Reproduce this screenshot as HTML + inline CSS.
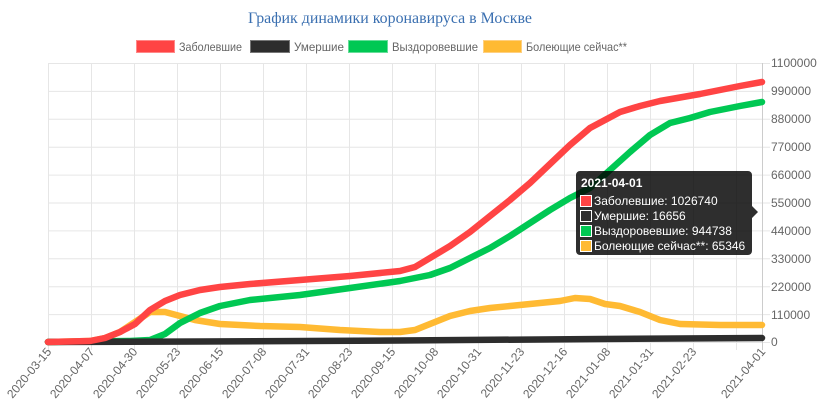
<!DOCTYPE html>
<html><head><meta charset="utf-8"><style>
html,body{margin:0;padding:0;background:#fff;width:826px;height:420px;overflow:hidden}
svg{display:block;font-family:"Liberation Sans",sans-serif}
</style></head><body>
<svg width="826" height="420" viewBox="0 0 826 420" xmlns="http://www.w3.org/2000/svg">
<text x="390" y="23" text-anchor="middle" font-family="Liberation Serif,serif" font-size="16" fill="#3a6fb0" textLength="284" lengthAdjust="spacingAndGlyphs">График динамики коронавируса в Москве</text>
<g font-size="12" fill="#666">
<rect x="136.5" y="40.5" width="38" height="12" fill="#ff4444" stroke="#ff8888"/><text x="179" y="51" textLength="63" lengthAdjust="spacingAndGlyphs">Заболевшие</text>
<rect x="250.5" y="40.5" width="39" height="12" fill="#2d2d2d" stroke="#777"/><text x="294" y="51" textLength="50" lengthAdjust="spacingAndGlyphs">Умершие</text>
<rect x="348.5" y="40.5" width="39" height="12" fill="#00c853" stroke="#66dd99"/><text x="392" y="51" textLength="86" lengthAdjust="spacingAndGlyphs">Выздоровевшие</text>
<rect x="483.5" y="40.5" width="38" height="12" fill="#ffba33" stroke="#ffd080"/><text x="526" y="51" textLength="101" lengthAdjust="spacingAndGlyphs">Болеющие сейчас**</text>
</g>
<g stroke="#e6e6e6" stroke-width="1">
<line x1="48" y1="63.5" x2="770" y2="63.5"/><line x1="48" y1="91.4" x2="770" y2="91.4"/><line x1="48" y1="119.3" x2="770" y2="119.3"/><line x1="48" y1="147.2" x2="770" y2="147.2"/><line x1="48" y1="175.1" x2="770" y2="175.1"/><line x1="48" y1="203" x2="770" y2="203"/><line x1="48" y1="230.9" x2="770" y2="230.9"/><line x1="48" y1="258.8" x2="770" y2="258.8"/><line x1="48" y1="286.7" x2="770" y2="286.7"/><line x1="48" y1="314.6" x2="770" y2="314.6"/><line x1="48" y1="342.5" x2="770" y2="342.5"/>
<line x1="48.5" y1="63" x2="48.5" y2="350"/><line x1="91.5" y1="63" x2="91.5" y2="350"/><line x1="134.5" y1="63" x2="134.5" y2="350"/><line x1="177.5" y1="63" x2="177.5" y2="350"/><line x1="220.5" y1="63" x2="220.5" y2="350"/><line x1="263.5" y1="63" x2="263.5" y2="350"/><line x1="306.5" y1="63" x2="306.5" y2="350"/><line x1="349.5" y1="63" x2="349.5" y2="350"/><line x1="392.5" y1="63" x2="392.5" y2="350"/><line x1="435.5" y1="63" x2="435.5" y2="350"/><line x1="478.5" y1="63" x2="478.5" y2="350"/><line x1="521.5" y1="63" x2="521.5" y2="350"/><line x1="564.5" y1="63" x2="564.5" y2="350"/><line x1="607.5" y1="63" x2="607.5" y2="350"/><line x1="650.5" y1="63" x2="650.5" y2="350"/><line x1="693.5" y1="63" x2="693.5" y2="350"/><line x1="736.5" y1="63" x2="736.5" y2="350"/>
</g>
<line x1="762.5" y1="63" x2="762.5" y2="350" stroke="#ccc"/>
<g font-size="12" fill="#666">
<text x="771" y="67">1100000</text><text x="771" y="95">990000</text><text x="771" y="123">880000</text><text x="771" y="151">770000</text><text x="771" y="179">660000</text><text x="771" y="207">550000</text><text x="771" y="235">440000</text><text x="771" y="263">330000</text><text x="771" y="291">220000</text><text x="771" y="319">110000</text><text x="771" y="346">0</text>
</g>
<g font-size="12" fill="#666" text-anchor="end">
<text transform="translate(52,352) rotate(-50)">2020-03-15</text>
<text transform="translate(95,352) rotate(-50)">2020-04-07</text>
<text transform="translate(138,352) rotate(-50)">2020-04-30</text>
<text transform="translate(181,352) rotate(-50)">2020-05-23</text>
<text transform="translate(224,352) rotate(-50)">2020-06-15</text>
<text transform="translate(267,352) rotate(-50)">2020-07-08</text>
<text transform="translate(310,352) rotate(-50)">2020-07-31</text>
<text transform="translate(353,352) rotate(-50)">2020-08-23</text>
<text transform="translate(396,352) rotate(-50)">2020-09-15</text>
<text transform="translate(439,352) rotate(-50)">2020-10-08</text>
<text transform="translate(482,352) rotate(-50)">2020-10-31</text>
<text transform="translate(525,352) rotate(-50)">2020-11-23</text>
<text transform="translate(568,352) rotate(-50)">2020-12-16</text>
<text transform="translate(611,352) rotate(-50)">2021-01-08</text>
<text transform="translate(654,352) rotate(-50)">2021-01-31</text>
<text transform="translate(697,352) rotate(-50)">2021-02-23</text>
<text transform="translate(766,352) rotate(-50)">2021-04-01</text>
</g>
<g fill="none" stroke-width="6.5" stroke-linejoin="round" stroke-linecap="round">
<polyline stroke="#ffba33" points="48,342 90,341 105,338 120,332 135,322 150,312 165,312 180,316 195,320 220,324 260,326 300,327 340,330 380,332 400,332 415,330 430,324 450,316 470,311 490,308 510,306 540,303 560,301 575,298 590,299 605,304 620,306 640,312 660,320 680,324 720,325 762,325"/>
<polyline stroke="#00c853" points="48,342 130,341 150,340 165,334 180,323 200,313 220,306 250,300 300,295 350,288 400,281 430,275 450,268 470,258 490,248 510,236 530,223 550,210 570,198 590,188 610,170 630,152 650,135 670,123 690,118 710,112 740,106 762,102"/>
<polyline stroke="#2d2d2d" points="48,342 200,341.5 400,340.5 600,339 762,338"/>
<polyline stroke="#ff4444" points="48,342 90,341 105,338 120,332 135,324 150,310 165,301 180,295 200,290 220,287 250,284 300,280 350,276 400,271 415,267 430,258 450,246 470,232 490,216 510,200 530,183 550,164 570,145 590,128 605,120 620,112 640,106 660,101 700,94 740,86 762,82"/>
</g>
<path d="M580,171 H748 a4,4 0 0 1 4,4 V206 L758,212 L752,218 V251 a4,4 0 0 1 -4,4 H580 a4,4 0 0 1 -4,-4 V175 a4,4 0 0 1 4,-4 Z" fill="rgba(0,0,0,0.82)"/>
<text x="581" y="187" font-size="12" font-weight="bold" fill="#fff">2021-04-01</text>
<g font-size="12" fill="#fff">
<rect x="580.5" y="195.5" width="11" height="11" fill="#ff4444" stroke="#fff"/><text x="594" y="205">Заболевшие: 1026740</text>
<rect x="580.5" y="210.5" width="11" height="11" fill="#2d2d2d" stroke="#fff"/><text x="594" y="220">Умершие: 16656</text>
<rect x="580.5" y="225.5" width="11" height="11" fill="#00c853" stroke="#fff"/><text x="594" y="235">Выздоровевшие: 944738</text>
<rect x="580.5" y="240.5" width="11" height="11" fill="#ffba33" stroke="#fff"/><text x="594" y="250">Болеющие сейчас**: 65346</text>
</g>
</svg>
</body></html>
